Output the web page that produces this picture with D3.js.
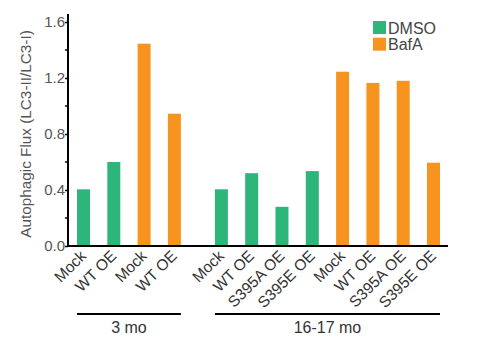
<!DOCTYPE html>
<html>
<head>
<meta charset="utf-8">
<script src="https://cdn.jsdelivr.net/npm/d3@7"></script>
<style>
  body { margin: 0; background: #fff; }
  svg text { font-family: Arial, "Liberation Sans", sans-serif; }
</style>
</head>
<body>
<div id="chart"></div>
<script>
// Data
const labels = ["Mock", "WT OE", "Mock", "WT OE",
                "Mock", "WT OE", "S395A OE", "S395E OE",
                "Mock", "WT OE", "S395A OE", "S395E OE"];
const treatments = ["DMSO", "DMSO", "BafA", "BafA",
                    "DMSO", "DMSO", "DMSO", "DMSO",
                    "BafA", "BafA", "BafA", "BafA"];
const ages = ["3 mo", "3 mo", "3 mo", "3 mo",
              "16-17 mo", "16-17 mo", "16-17 mo", "16-17 mo",
              "16-17 mo", "16-17 mo", "16-17 mo", "16-17 mo"];
const values = [0.405, 0.60, 1.445, 0.945,
                0.405, 0.52, 0.28, 0.535,
                1.245, 1.165, 1.18, 0.595];
const groups = ["3 mo", "16-17 mo"];
const legendKeys = ["DMSO", "BafA"];
const yTicks = [0, 0.4, 0.8, 1.2, 1.6];

const width = 497, height = 354;
const colors = { DMSO: "#2db57a", BafA: "#f7941f" };

// slot position: second age group is shifted by an extra gap
const slot = (d, i) => i + (ages[i] === groups[1] ? 0.55 : 0);
const data = values.map((v, i) => ({ label: labels[i], t: treatments[i], age: ages[i], value: v, pos: slot(v, i) }));

const svg = d3.select("#chart").append("svg")
    .attr("width", width)
    .attr("height", height);

const x = d3.scaleLinear().domain([0, 11.55]).range([83.5, 433.5]);
const y = d3.scaleLinear().domain([0, 1.6]).range([246, 22]);
const barW = 13;

// bars
svg.selectAll(".bar")
    .data(data)
    .enter()
    .append("rect")
    .attr("class", "bar")
    .attr("x", d => x(d.pos) - barW / 2)
    .attr("y", d => y(d.value))
    .attr("width", barW)
    .attr("height", d => y(0) - y(d.value))
    .attr("fill", d => colors[d.t]);

// y axis
const yAxis = svg.append("g")
    .attr("transform", "translate(68,0)")
    .call(d3.axisLeft(y).tickValues(yTicks).tickFormat(d3.format(".1f")).tickSize(3).tickSizeOuter(0));
yAxis.select(".domain").remove();
yAxis.selectAll("line").attr("stroke", "#000").attr("stroke-width", 1.5);
yAxis.selectAll("text").attr("font-size", 15).attr("fill", "#555").attr("x", -3);
// minor ticks
svg.append("g").selectAll("line")
    .data([0.2, 0.6, 1.0, 1.4])
    .enter().append("line")
    .attr("x1", 65).attr("x2", 68)
    .attr("y1", d => y(d)).attr("y2", d => y(d))
    .attr("stroke", "#000").attr("stroke-width", 1.5);
svg.append("line")
    .attr("x1", 68).attr("x2", 68)
    .attr("y1", 14).attr("y2", y(0) + 1)
    .attr("stroke", "#000").attr("stroke-width", 2);

// x axis line
svg.append("line")
    .attr("x1", 67).attr("x2", 448)
    .attr("y1", y(0)).attr("y2", y(0))
    .attr("stroke", "#000").attr("stroke-width", 2);

// x labels
svg.selectAll(".xlab")
    .data(data)
    .enter()
    .append("text")
    .attr("class", "xlab")
    .attr("text-anchor", "end")
    .attr("font-size", 15.5)
    .attr("fill", "#333")
    .attr("transform", d => `translate(${x(d.pos) + 3.5},${y(0) + 11}) rotate(-45)`)
    .text(d => d.label);

// group lines
groups.forEach(g => {
    const idx = data.filter(d => d.age === g);
    const x0 = x(d3.min(idx, d => d.pos)) - barW / 2;
    const x1 = x(d3.max(idx, d => d.pos)) + barW / 2;
    svg.append("line")
        .attr("x1", x0).attr("x2", x1)
        .attr("y1", 314).attr("y2", 314)
        .attr("stroke", "#000").attr("stroke-width", 2);
    svg.append("text")
        .attr("x", (x0 + x1) / 2).attr("y", 333)
        .attr("text-anchor", "middle")
        .attr("font-size", 16)
        .attr("fill", "#333")
        .text(g);
});

// y label
svg.append("text")
    .attr("transform", `translate(31,${(28 + 240) / 2}) rotate(-90)`)
    .attr("text-anchor", "middle")
    .attr("font-size", 15.3)
    .attr("fill", "#555")
    .text("Autophagic Flux (LC3-II/LC3-I)");

// legend
const legend = svg.append("g");
legendKeys.forEach((k, i) => {
    legend.append("rect")
        .attr("x", 373).attr("y", 21 + i * 16.7)
        .attr("width", 13).attr("height", 13)
        .attr("fill", colors[k]);
    legend.append("text")
        .attr("x", 388).attr("y", 33.5 + i * 16.7)
        .attr("font-size", 16)
        .attr("fill", "#444")
        .text(k);
});
</script>
</body>
</html>
